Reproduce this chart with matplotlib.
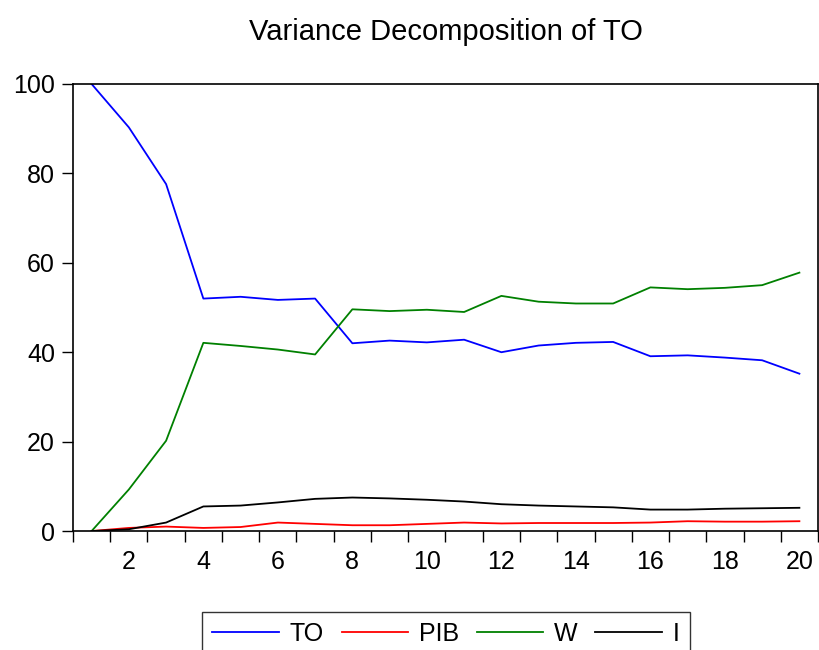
import matplotlib
matplotlib.use('Agg')
import matplotlib.pyplot as plt
import numpy as np

plt.rcParams['font.family'] = ['Liberation Sans', 'DejaVu Sans']

# periods 1..20
periods = np.arange(1, 21)

to_share = [100.0, 90.3, 77.6, 52.0, 52.4, 51.7, 52.0, 42.0, 42.6, 42.2,
            42.8, 40.0, 41.5, 42.1, 42.3, 39.1, 39.3, 38.8, 38.2, 35.2]
pib_share = [0.0, 0.7, 1.0, 0.7, 0.9, 1.9, 1.6, 1.3, 1.3, 1.6,
             1.9, 1.7, 1.8, 1.8, 1.8, 1.9, 2.2, 2.1, 2.1, 2.2]
w_share = [0.0, 9.3, 20.2, 42.1, 41.4, 40.6, 39.5, 49.6, 49.2, 49.5,
           49.0, 52.6, 51.3, 50.9, 50.9, 54.5, 54.1, 54.4, 55.0, 57.8]
i_share = [0.0, 0.4, 1.9, 5.5, 5.7, 6.4, 7.2, 7.5, 7.3, 7.0,
           6.6, 6.0, 5.7, 5.5, 5.3, 4.8, 4.8, 5.0, 5.1, 5.2]

series_names = ['TO', 'PIB', 'W', 'I']
colors = ['#0000ff', '#ff0000', '#008000', '#000000']

fig = plt.figure(figsize=(8.19, 6.5), dpi=100)
ax = fig.add_axes([0.0891, 0.183, 0.9097, 0.6878])

for vals, name, c in zip([to_share, pib_share, w_share, i_share], series_names, colors):
    ax.plot(periods, vals, color=c, lw=1.3, label=name)

ax.set_xlim(0.5, 20.5)
ax.set_ylim(0, 100)

# labels on even periods, tick marks between periods
ax.set_xticks(np.arange(2, 21, 2))
ax.set_xticks(np.arange(0.5, 21, 1), minor=True)
ax.tick_params(axis='x', which='major', length=0, pad=14, labelsize=18)
ax.tick_params(axis='x', which='minor', length=8, width=1, direction='out')
ax.set_yticks([0, 20, 40, 60, 80, 100])
ax.tick_params(axis='y', length=8, width=1, direction='out', pad=5, labelsize=18)

for s in ax.spines.values():
    s.set_linewidth(1.2)

fig.text(0.545, 0.951, 'Variance Decomposition of TO', ha='center', va='center', fontsize=21)

leg = fig.legend(loc='upper center', bbox_to_anchor=(0.5445, 0.0585), ncol=4,
                 fontsize=18, frameon=True, fancybox=False, edgecolor='black',
                 handlelength=2.65, handletextpad=0.45, columnspacing=0.7,
                 borderaxespad=0, borderpad=0.4)
leg.get_frame().set_linewidth(1.0)

fig.savefig('out.png', dpi=100)
